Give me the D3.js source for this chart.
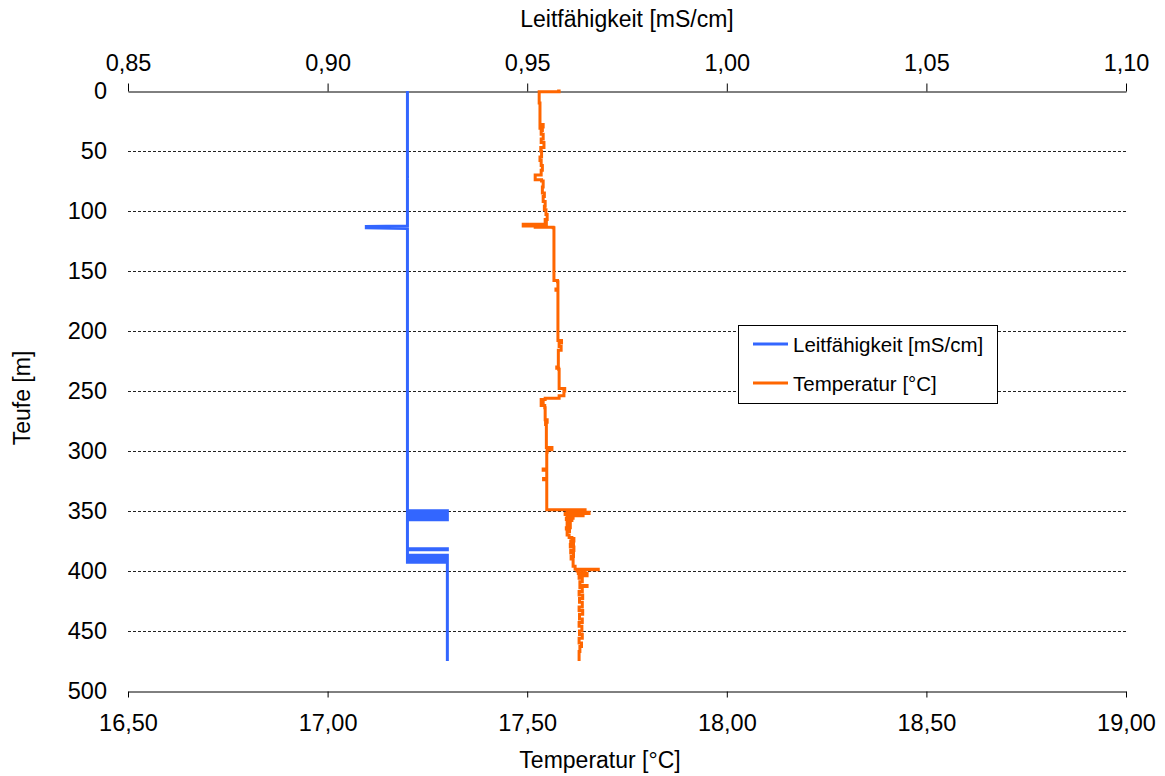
<!DOCTYPE html>
<html><head><meta charset="utf-8">
<script src="https://cdn.jsdelivr.net/npm/d3@7"></script>
<style>
body{margin:0;background:#fff;}
svg{font-family:"Liberation Sans",Arial,sans-serif;}
</style></head>
<body><svg id="c" width="1165" height="776"></svg>
<script>
// ---- data ----
const depthTicks = [0,50,100,150,200,250,300,350,400,450,500];
const condTicks = [0.85,0.90,0.95,1.00,1.05,1.10];
const tempTicks = [16.5,17.0,17.5,18.0,18.5,19.0];

const condDepth = [0,71.5,71.7,72,112.5,113,114,114.6,165,165.2,165.4,
  349.8,349.8,350.3,350.3,350.8,350.8,351.3,351.3,351.8,351.8,352.3,352.3,352.8,352.8,353.3,353.3,353.8,353.8,354.3,354.3,354.8,354.8,355.3,355.3,355.8,355.8,356.3,356.3,356.8,356.8,357.3,357.3,
  381.4,381.4,382.3,382.3,
  386.8,386.8,387.3,387.3,387.8,387.8,388.3,388.3,388.8,388.8,389.3,389.3,389.8,389.8,390.3,390.3,390.8,390.8,391.3,391.3,391.8,391.8,392.3,392.3,392.8,392.8,393.3,475];
const condVal = [0.92,0.92,0.9203,0.92,0.92,0.9097,0.9097,0.92,0.92,0.9203,0.92,
  0.92,0.93,0.93,0.92,0.92,0.93,0.93,0.92,0.92,0.93,0.93,0.92,0.92,0.93,0.93,0.92,0.92,0.93,0.93,0.92,0.92,0.93,0.93,0.92,0.92,0.93,0.93,0.92,0.92,0.93,0.93,0.92,
  0.92,0.93,0.93,0.92,
  0.92,0.93,0.93,0.92,0.92,0.93,0.93,0.92,0.92,0.93,0.93,0.92,0.92,0.93,0.93,0.92,0.92,0.93,0.93,0.92,0.92,0.93,0.93,0.92,0.92,0.93,0.93,0.93];

const tempDepth = [0,0.6,1.2,2,10,20,28,30,31,33,36,40,43,47,50,55,58,62,66,70,74,75,80,85,88,92,96,99,103,107,109,111,112.5,113.5,114,115,
  158,159,165,166,167,208,210,213,216,219,230,231,232,248,250,254,256,257,258,260,262,264,274,276,278,297,299,301,315,316,318,323,324,325,
  349,350.5,351,352,353,354,355,356,357,358,359,360,362,364,365,367,370,372,373,375,377,378,380,383,385,388,390,393,396,398.5,399,400,401,402,404,406,409,412,413,414,
  417,420,423,426,430,433,436,440,443,446,450,453,456,460,463,467,470,475];
const tempVal = [17.575,17.58,17.53,17.53,17.53,17.532,17.532,17.54,17.532,17.538,17.535,17.54,17.535,17.542,17.534,17.536,17.532,17.535,17.538,17.535,17.52,17.536,17.54,17.538,17.543,17.54,17.545,17.543,17.547,17.55,17.545,17.548,17.49,17.52,17.565,17.567,
  17.567,17.576,17.577,17.572,17.577,17.577,17.586,17.58,17.585,17.578,17.578,17.574,17.579,17.58,17.594,17.592,17.58,17.545,17.535,17.54,17.535,17.544,17.545,17.55,17.546,17.548,17.562,17.55,17.549,17.54,17.549,17.549,17.541,17.549,
  17.549,17.645,17.6,17.655,17.595,17.64,17.6,17.615,17.598,17.612,17.6,17.608,17.6,17.608,17.598,17.606,17.6,17.605,17.612,17.617,17.609,17.616,17.608,17.617,17.609,17.616,17.61,17.615,17.615,17.62,17.678,17.625,17.645,17.628,17.65,17.63,17.638,17.632,17.65,17.632,
  17.638,17.63,17.639,17.631,17.638,17.63,17.639,17.631,17.638,17.63,17.637,17.631,17.638,17.63,17.636,17.632,17.63,17.63];

const fmt = d => d.toFixed(2).replace('.', ',');

// ---- layout ----
const svg = d3.select('#c');
const L = 128, R = 1126, T = 91, B = 691;
const y = d3.scaleLinear().domain([0,500]).range([T,B]);
const xc = d3.scaleLinear().domain([0.85,1.10]).range([L,R]);
const xt = d3.scaleLinear().domain([16.5,19.0]).range([L,R]);

// gridlines
svg.append('g').selectAll('line').data(depthTicks.filter(d=>d>0 && d<500)).join('line')
  .attr('x1',L).attr('x2',R).attr('y1',d=>y(d)+0.5).attr('y2',d=>y(d)+0.5)
  .attr('stroke','#222').attr('stroke-width',1).attr('stroke-dasharray','3,2');

// top axis
const gTop = svg.append('g').attr('transform',`translate(0,${T+0.5})`)
  .call(d3.axisTop(xc).tickValues(condTicks).tickFormat(fmt).tickSize(8).tickSizeOuter(0).tickPadding(13));
// bottom axis
const gBot = svg.append('g').attr('transform',`translate(0,${B+0.5})`)
  .call(d3.axisBottom(xt).tickValues(tempTicks).tickFormat(fmt).tickSize(6).tickSizeOuter(0).tickPadding(17));
// left axis labels
const gLeft = svg.append('g').attr('transform',`translate(${L},0)`)
  .call(d3.axisLeft(y).tickValues(depthTicks).tickSize(0).tickPadding(21));
gLeft.select('.domain').remove();
[gTop,gBot,gLeft].forEach(g=>{
  g.selectAll('text').attr('font-size',23.5).attr('fill','#000').attr('font-family','"Liberation Sans",Arial,sans-serif');
  g.selectAll('line,path').attr('stroke','#000');
});

// titles
svg.append('text').attr('x',627).attr('y',27).attr('text-anchor','middle').attr('font-size',23).text('Leitfähigkeit [mS/cm]');
svg.append('text').attr('x',600).attr('y',768).attr('text-anchor','middle').attr('font-size',23).text('Temperatur [°C]');
svg.append('text').attr('transform','translate(30,398) rotate(-90)').attr('text-anchor','middle').attr('font-size',23).text('Teufe [m]');

// lines
const condData = condDepth.map((d,i)=>({d, v:condVal[i]}));
const tempData = tempDepth.map((d,i)=>({d, v:tempVal[i]}));
svg.append('path').datum(condData)
  .attr('d', d3.line().x(p=>xc(p.v)).y(p=>y(p.d)))
  .attr('fill','none').attr('stroke','#3366ff').attr('stroke-width',3);
svg.append('path').datum(tempData)
  .attr('d', d3.line().curve(d3.curveStepAfter).x(p=>xt(p.v)).y(p=>y(p.d)))
  .attr('fill','none').attr('stroke','#ff6600').attr('stroke-width',3);

// legend
const lg = svg.append('g');
lg.append('rect').attr('x',738.5).attr('y',325.5).attr('width',259).attr('height',78)
  .attr('fill','#fff').attr('stroke','#000').attr('stroke-width',1);
const items = [['Leitfähigkeit [mS/cm]','#3366ff'],['Temperatur [°C]','#ff6600']];
items.forEach((it,i)=>{
  const yy = 344 + i*39;
  lg.append('line').attr('x1',753).attr('x2',788).attr('y1',yy).attr('y2',yy).attr('stroke',it[1]).attr('stroke-width',3);
  lg.append('text').attr('x',793).attr('y',yy+7.5).attr('font-size',20.5).text(it[0]);
});
</script></body></html>
